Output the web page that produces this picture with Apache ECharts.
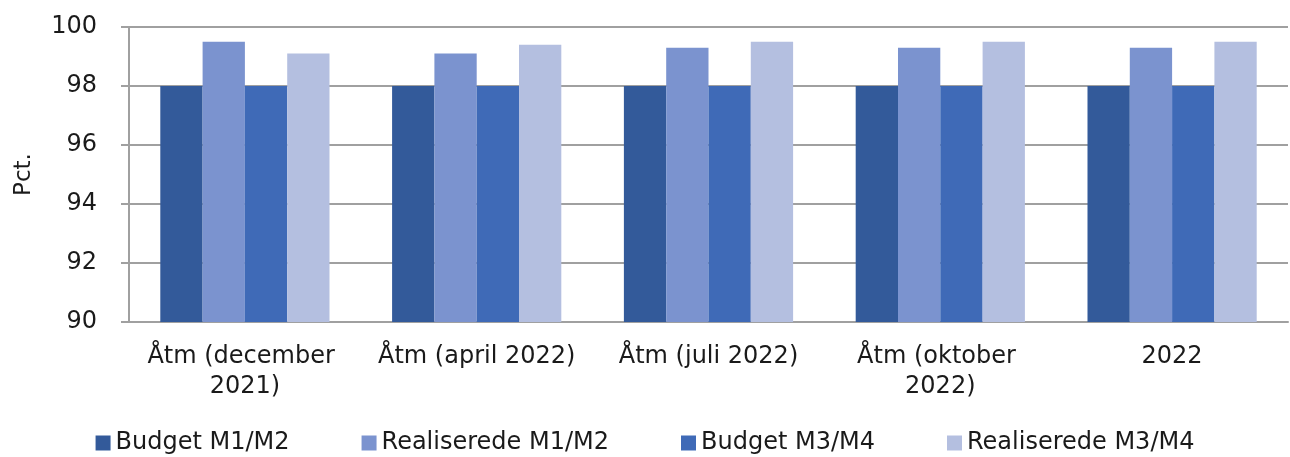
<!DOCTYPE html>
<html>
<head>
<meta charset="utf-8">
<script src="https://cdn.jsdelivr.net/npm/echarts@6/dist/echarts.min.js"></script>
<style>
  html, body { margin: 0; padding: 0; background: #fff; }
  #chart { width: 1290px; height: 457px; }
</style>
</head>
<body>
<div id="chart"></div>
<script>
// kategorier og serier
const categories = ['Åtm (december 2021)', 'Åtm (april 2022)', 'Åtm (juli 2022)', 'Åtm (oktober 2022)', '2022'];
const budgetM1M2 = [98, 98, 98, 98, 98];
const realM1M2 = [99.5, 99.1, 99.3, 99.3, 99.3];
const budgetM3M4 = [98, 98, 98, 98, 98];
const realM3M4 = [99.1, 99.4, 99.5, 99.5, 99.5];

const font = '"DejaVu Sans", sans-serif';
const chart = echarts.init(document.getElementById('chart'));

function bar(name, data, color) {
  return {
    name: name,
    type: 'bar',
    data: data,
    barGap: '0%',
    barCategoryGap: '27%',
    itemStyle: { color: color },
  };
}

chart.setOption({
  animation: false,
  textStyle: { fontFamily: font, color: '#1a1a1a' },
  grid: { left: 129, right: 2, top: 27, bottom: 135 },
  legend: {
    bottom: -3,
    left: 'center',
    itemWidth: 15,
    itemHeight: 15,
    itemGap: 72,
    icon: 'rect',
    textStyle: { fontSize: 24, color: '#1a1a1a', fontFamily: font, padding: [0, 0, 0, 0] },
  },
  xAxis: {
    type: 'category',
    data: categories,
    axisLine: { lineStyle: { color: '#a0a0a0', width: 2 } },
    axisTick: { show: false },
    axisLabel: {
      fontSize: 24,
      color: '#1a1a1a',
      margin: 20,
      width: 226,
      overflow: 'break',
      lineHeight: 30,
      interval: 0,
    },
  },
  yAxis: {
    type: 'value',
    min: 90,
    max: 100,
    interval: 2,
    name: 'Pct.',
    nameLocation: 'middle',
    nameGap: 93,
    nameTextStyle: { fontSize: 23, color: '#1a1a1a' },
    axisLine: { show: true, lineStyle: { color: '#a0a0a0', width: 2 } },
    axisTick: { show: true, length: 8, lineStyle: { color: '#a0a0a0', width: 2 } },
    splitLine: { lineStyle: { color: '#a0a0a0', width: 2 } },
    axisLabel: { fontSize: 24, color: '#1a1a1a', margin: 32 },
  },
  series: [
    bar('Budget M1/M2', budgetM1M2, '#335a9a'),
    bar('Realiserede M1/M2', realM1M2, '#7b93cf'),
    bar('Budget M3/M4', budgetM3M4, '#3f6ab7'),
    bar('Realiserede M3/M4', realM3M4, '#b4bfe0'),
  ],
});
</script>
</body>
</html>
